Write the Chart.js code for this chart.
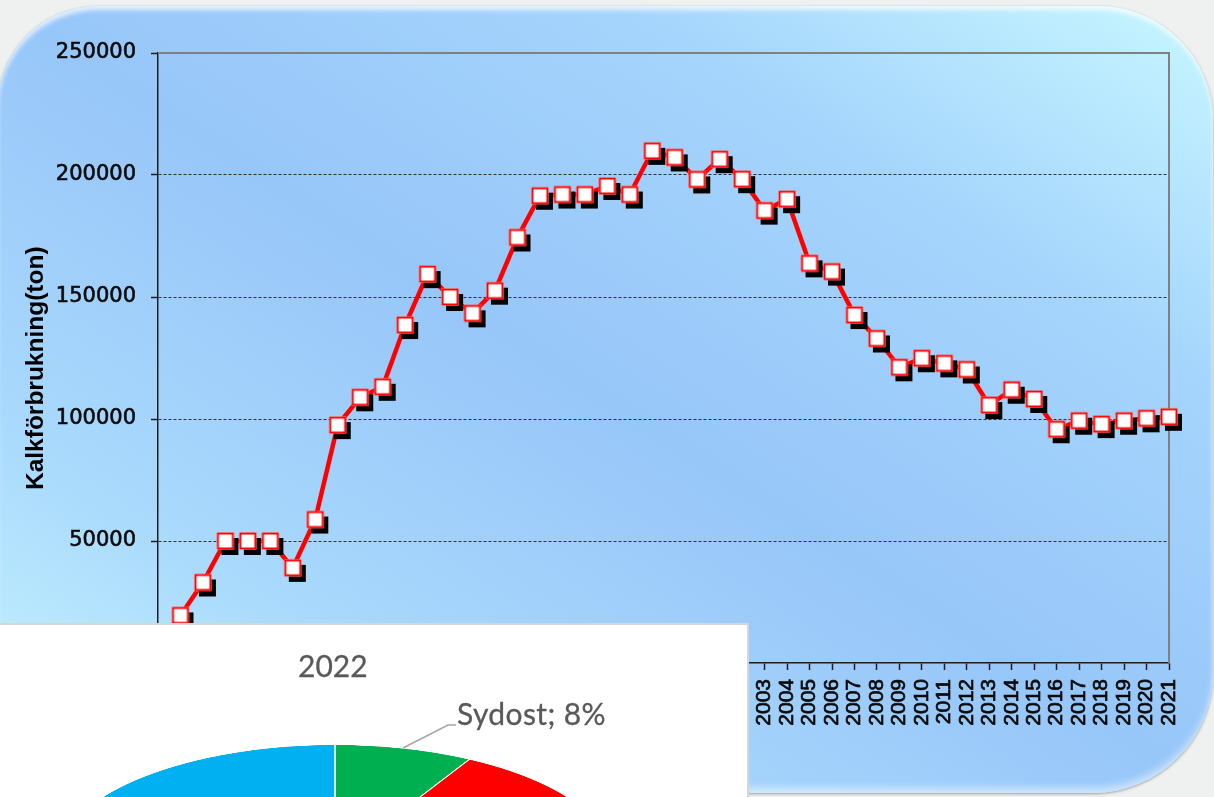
<!DOCTYPE html>
<html>
<head>
<meta charset="utf-8">
<script src="https://cdn.jsdelivr.net/npm/chart.js@4.4.1/dist/chart.umd.min.js"></script>
<style>
  html, body { margin: 0; padding: 0; }
  body { width: 1214px; height: 797px; overflow: hidden; position: relative; background: #eff1f1; }
  #bg {
    position: absolute; left: -2px; top: 6px; width: 1215px; height: 787px;
    border-radius: 100px 115px 120px 100px;
    background: linear-gradient(to top right, #c8f7ff 0%, #a9d9fc 24%, #97c6f9 50%, #a5d5fc 76%, #c8f8ff 100%);
    box-shadow: inset 0 5px 5px -1px rgba(255,255,255,0.75), inset 0 -8px 8px -3px rgba(255,255,255,0.55), 0 1px 3px rgba(0,0,0,0.35);
  }
  #lineChart { position: absolute; left: 0; top: 0; }
  #panel {
    position: absolute; left: -2px; top: 623px; width: 747px; height: 200px;
    background: #fff; border: 2px solid #d6d6d6; overflow: hidden;
  }
  #pieBox {
    position: absolute; left: 55px; top: -43px; width: 560px; height: 560px;
    transform: scaleY(0.42); transform-origin: 50% 50%;
  }
  .pieText { position: absolute; font-family: Lato, 'Open Sans', sans-serif; font-size: 30px; line-height: 30px; color: #595959; white-space: nowrap; -webkit-text-stroke: 0.3px #595959; }
  #pieTitle { left: 298px; top: 25px; }
  #pieLabel { left: 457px; top: 73px; letter-spacing: 0.4px; }
  #leader { position: absolute; left: 0; top: 0; }
</style>
</head>
<body>
<div id="bg"></div>
<canvas id="lineChart" width="1214" height="797"></canvas>
<div id="panel">
  <div id="pieBox"><canvas id="pieChart" width="560" height="560"></canvas></div>
  <svg id="leader" width="747" height="200">
    <polyline points="403,123 448,100 456,100" fill="none" stroke="#a6a6a6" stroke-width="1.5"/>
  </svg>
  <div class="pieText" id="pieTitle">2022</div>
  <div class="pieText" id="pieLabel">Sydost; 8%</div>
</div>
<script>
// Lime use per year (ton)
const years = [];
for (let y = 1976; y <= 2021; y++) years.push(String(y));

const limeTons = [
    8000, 19500, 33000, 50000, 50000, 50000, 39000, 58800, 97500, 108900,
    113200, 138500, 159400, 150000, 143300, 152600, 174400, 191500, 192000, 192000,
    195500, 192000, 209900, 207200, 198200, 206500, 198300, 185400, 190100, 163800,
    160400, 142600, 133000, 121200, 124900, 122800, 120300, 105700, 112000, 108200,
    95800, 99300, 97900, 99300, 100300, 100900
];

const yTickValues = [0, 50000, 100000, 150000, 200000, 250000];

// 2022 share per region
const regionNames = ['Sydost', 'Syd', 'Norr'];
const regionShares = [8, 47, 45];
const regionColors = ['#00b050', '#ff0000', '#00b0f0'];

// Square marker with a hard black drop shadow
function makeMarker() {
    const c = document.createElement('canvas');
    c.width = 38;
    c.height = 38;
    const g = c.getContext('2d');
    g.fillStyle = '#000';
    g.fillRect(15, 16, 17, 17);
    g.fillStyle = '#fff';
    g.fillRect(10.5, 10.5, 17, 17);
    g.strokeStyle = '#ff0000';
    g.lineWidth = 2;
    g.strokeRect(11.5, 11.5, 15, 15);
    return c;
}
const marker = makeMarker();

// Gray frame on top and right of the plot area
const plotFrame = {
    id: 'plotFrame',
    beforeDatasetsDraw(chart) {
        const { ctx, chartArea: a } = chart;
        ctx.save();
        ctx.strokeStyle = '#808080';
        ctx.lineWidth = 2;
        ctx.beginPath();
        ctx.moveTo(a.left, a.top);
        ctx.lineTo(a.right, a.top);
        ctx.lineTo(a.right, a.bottom);
        ctx.stroke();
        ctx.restore();
    }
};

new Chart(document.getElementById('lineChart'), {
    type: 'line',
    data: {
        labels: years,
        datasets: [{
            data: limeTons,
            borderColor: '#ff0000',
            borderWidth: 4.5,
            pointStyle: marker,
            pointRadius: 8,
            pointHoverRadius: 8,
            tension: 0,
            clip: false
        }]
    },
    options: {
        responsive: false,
        animation: false,
        events: [],
        layout: { padding: { left: 10, top: 53, right: 45, bottom: 0 } },
        plugins: {
            legend: { display: false },
            tooltip: { enabled: false }
        },
        scales: {
            x: {
                offset: false,
                afterFit(scale) { scale.height = 134; },
                grid: {
                    drawOnChartArea: false,
                    tickLength: 7,
                    tickColor: '#1e1e1e',
                    tickWidth: 1.5,
                    offset: false
                },
                border: { color: '#1e1e1e', width: 1.5 },
                ticks: {
                    autoSkip: false,
                    minRotation: 90,
                    maxRotation: 90,
                    padding: 9,
                    color: '#0a0a0a',
                    textStrokeColor: '#0a0a0a',
                    textStrokeWidth: 0.7,
                    font: { family: '"Liberation Sans", Arial, sans-serif', size: 21 }
                }
            },
            y: {
                min: 0,
                max: 250000,
                afterFit(scale) { scale.width = 148; },
                afterBuildTicks(scale) {
                    scale.ticks = yTickValues.map(v => ({ value: v }));
                },
                grid: {
                    color: ctx => (ctx.tick && (ctx.tick.value === 0 || ctx.tick.value === 250000)) ? 'rgba(0,0,0,0)' : '#333',
                    lineWidth: 1,
                    tickLength: 7,
                    tickColor: '#1e1e1e',
                    tickWidth: 1.5
                },
                border: { color: '#1e1e1e', width: 1.5, dash: [3, 2] },
                ticks: {
                    padding: 15,
                    color: '#0a0a0a',
                    textStrokeColor: '#0a0a0a',
                    textStrokeWidth: 0.6,
                    font: { family: '"DejaVu Sans", sans-serif', size: 21 },
                    callback: v => String(v)
                },
                title: {
                    display: true,
                    text: 'Kalkförbrukning(ton)   ',
                    color: '#000',
                    padding: { top: 12, bottom: 0 },
                    font: { family: '"Liberation Sans", Arial, sans-serif', size: 24.5, weight: 'bold' }
                }
            }
        }
    },
    plugins: [plotFrame]
});

new Chart(document.getElementById('pieChart'), {
    type: 'pie',
    data: {
        labels: regionNames,
        datasets: [{
            data: regionShares,
            backgroundColor: regionColors,
            borderColor: '#ffffff',
            borderWidth: 1.5
        }]
    },
    options: {
        responsive: false,
        animation: false,
        events: [],
        layout: { padding: 0 },
        plugins: {
            legend: { display: false },
            tooltip: { enabled: false }
        }
    }
});
</script>
</body>
</html>
